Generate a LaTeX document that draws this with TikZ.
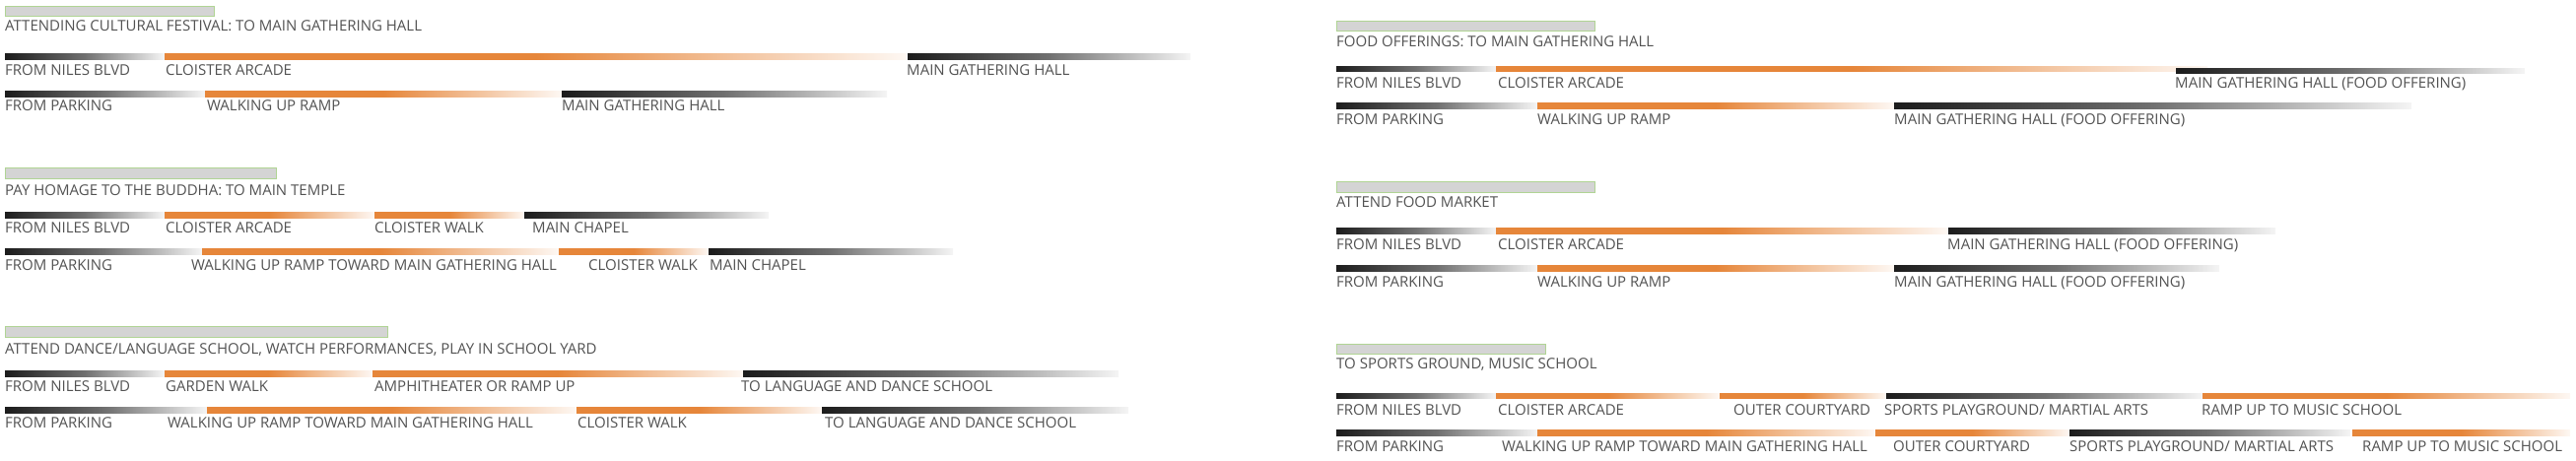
\documentclass[tikz,border=0pt]{standalone}
\usepackage{fontspec}
\setmainfont{Open Sans}
\usepackage{tikz}
\definecolor{myorange}{RGB}{230,134,58}
\definecolor{mydark}{RGB}{28,28,28}
\definecolor{mymid}{RGB}{112,112,112}
\definecolor{mytext}{RGB}{82,82,82}
\definecolor{mygray}{RGB}{212,212,212}
\definecolor{mygreen}{RGB}{176,212,148}
\newcommand{\routefont}{\fontsize{15}{18}\selectfont}
\tikzstyle{headbar}=[draw=mygreen,fill=mygray,line width=0.9pt]
\tikzstyle{headline}=[anchor=base west,inner sep=0pt,text=mytext,font=\routefont]
\tikzstyle{seglabel}=[anchor=base west,inner sep=0pt,text=mytext,font=\routefont]
\tikzstyle{darkbar}=[left color=mydark,right color=black!4,middle color=mymid]
\tikzstyle{orangebar}=[left color=myorange,right color=myorange!6,middle color=myorange]

\begin{document}
\begin{tikzpicture}[x=1pt,y=-1pt]
\useasboundingbox (0,0) rectangle (2614,468);
% attending cultural festival
\draw[headbar] (5,6) rectangle (217,16);
\draw (5,32) node [headline] (fest) {ATTENDING CULTURAL FESTIVAL: TO MAIN GATHERING HALL};
\shade[darkbar] (5,55) rectangle (167,61);
\shade[orangebar] (167,55) rectangle (920,61);
\shade[darkbar] (921,55) rectangle (1208,61);
\draw (5,76.5) node [seglabel] (fest-n1) {FROM NILES BLVD};
\draw (168,76.5) node [seglabel] (fest-n2) {CLOISTER ARCADE};
\draw (920,76.5) node [seglabel] (fest-n3) {MAIN GATHERING HALL};
\shade[darkbar] (5,93) rectangle (208,99);
\shade[orangebar] (208,93) rectangle (570,99);
\shade[darkbar] (570,93) rectangle (900,99);
\draw (5,113) node [seglabel] (fest-p1) {FROM PARKING};
\draw (210,113) node [seglabel] (fest-p2) {WALKING UP RAMP};
\draw (570,113) node [seglabel] (fest-p3) {MAIN GATHERING HALL};
% pay homage
\draw[headbar] (5,170) rectangle (280,181);
\draw (5,198) node [headline] (homage) {PAY HOMAGE TO THE BUDDHA: TO MAIN TEMPLE};
\shade[darkbar] (5,215) rectangle (167,221);
\shade[orangebar] (167,215) rectangle (380,221);
\shade[orangebar] (380,215) rectangle (532,221);
\shade[darkbar] (532,215) rectangle (780,221);
\draw (5,236) node [seglabel] (homage-n1) {FROM NILES BLVD};
\draw (168,236) node [seglabel] (homage-n2) {CLOISTER ARCADE};
\draw (380,236) node [seglabel] (homage-n3) {CLOISTER WALK};
\draw (540,236) node [seglabel] (homage-n4) {MAIN CHAPEL};
\shade[darkbar] (5,252) rectangle (205,258);
\shade[orangebar] (205,252) rectangle (567,258);
\shade[orangebar] (567,252) rectangle (719,258);
\shade[darkbar] (719,252) rectangle (967,258);
\draw (5,274) node [seglabel] (homage-p1) {FROM PARKING};
\draw (194,274) node [seglabel] (homage-p2) {WALKING UP RAMP TOWARD MAIN GATHERING HALL};
\draw (597,274) node [seglabel] (homage-p3) {CLOISTER WALK};
\draw (720,274) node [seglabel] (homage-p4) {MAIN CHAPEL};
% dance and language school
\draw[headbar] (5,331) rectangle (393,342);
\draw (5,359) node [headline] (dance) {ATTEND DANCE/LANGUAGE SCHOOL, WATCH PERFORMANCES, PLAY IN SCHOOL YARD};
\shade[darkbar] (5,376) rectangle (167,382);
\shade[orangebar] (167,376) rectangle (378,382);
\shade[orangebar] (378,376) rectangle (754,382);
\shade[darkbar] (754,376) rectangle (1135,382);
\draw (5,397) node [seglabel] (dance-n1) {FROM NILES BLVD};
\draw (168,397) node [seglabel] (dance-n2) {GARDEN WALK};
\draw (380,397) node [seglabel] (dance-n3) {AMPHITHEATER OR RAMP UP};
\draw (752,397) node [seglabel] (dance-n4) {TO LANGUAGE AND DANCE SCHOOL};
\shade[darkbar] (5,413) rectangle (210,419);
\shade[orangebar] (210,413) rectangle (585,419);
\shade[orangebar] (585,413) rectangle (834,419);
\shade[darkbar] (834,413) rectangle (1145,419);
\draw (5,434) node [seglabel] (dance-p1) {FROM PARKING};
\draw (170,434) node [seglabel] (dance-p2) {WALKING UP RAMP TOWARD MAIN GATHERING HALL};
\draw (586,434) node [seglabel] (dance-p3) {CLOISTER WALK};
\draw (837,434) node [seglabel] (dance-p4) {TO LANGUAGE AND DANCE SCHOOL};
% food offerings
\draw[headbar] (1356,21) rectangle (1618,31);
\draw (1356,48) node [headline] (food) {FOOD OFFERINGS: TO MAIN GATHERING HALL};
\shade[darkbar] (1356,68) rectangle (1518,73);
\shade[orangebar] (1518,68) rectangle (2240,73);
\shade[darkbar] (2208,70) rectangle (2562,75);
\draw (1356,90) node [seglabel] (food-n1) {FROM NILES BLVD};
\draw (1520,90) node [seglabel] (food-n2) {CLOISTER ARCADE};
\draw (2207,90) node [seglabel] (food-n3) {MAIN GATHERING HALL (FOOD OFFERING)};
\shade[darkbar] (1356,105) rectangle (1560,111);
\shade[orangebar] (1560,105) rectangle (1922,111);
\shade[darkbar] (1922,105) rectangle (2447,111);
\draw (1356,127) node [seglabel] (food-p1) {FROM PARKING};
\draw (1560,127) node [seglabel] (food-p2) {WALKING UP RAMP};
\draw (1922,127) node [seglabel] (food-p3) {MAIN GATHERING HALL (FOOD OFFERING)};
% food market
\draw[headbar] (1356,184) rectangle (1618,195);
\draw (1356,210) node [headline] (market) {ATTEND FOOD MARKET};
\shade[darkbar] (1356,231) rectangle (1518,237);
\shade[orangebar] (1518,231) rectangle (1976,237);
\shade[darkbar] (1977,231) rectangle (2309,237);
\draw (1356,253) node [seglabel] (market-n1) {FROM NILES BLVD};
\draw (1520,253) node [seglabel] (market-n2) {CLOISTER ARCADE};
\draw (1976,253) node [seglabel] (market-n3) {MAIN GATHERING HALL (FOOD OFFERING)};
\shade[darkbar] (1356,269) rectangle (1560,275);
\shade[orangebar] (1560,269) rectangle (1922,275);
\shade[darkbar] (1922,269) rectangle (2252,275);
\draw (1356,291) node [seglabel] (market-p1) {FROM PARKING};
\draw (1560,291) node [seglabel] (market-p2) {WALKING UP RAMP};
\draw (1922,291) node [seglabel] (market-p3) {MAIN GATHERING HALL (FOOD OFFERING)};
% sports ground, music school
\draw[headbar] (1356,349) rectangle (1568,359);
\draw (1356,374) node [headline] (sports) {TO SPORTS GROUND, MUSIC SCHOOL};
\shade[darkbar] (1356,399) rectangle (1518,404);
\shade[orangebar] (1518,399) rectangle (1745,404);
\shade[orangebar] (1745,399) rectangle (1914,404);
\shade[darkbar] (1914,399) rectangle (2235,404);
\shade[orangebar] (2235,399) rectangle (2608,404);
\draw (1356,421) node [seglabel] (sports-n1) {FROM NILES BLVD};
\draw (1520,421) node [seglabel] (sports-n2) {CLOISTER ARCADE};
\draw (1759,421) node [seglabel] (sports-n3) {OUTER COURTYARD};
\draw (1912,421) node [seglabel] (sports-n4) {SPORTS PLAYGROUND/ MARTIAL ARTS};
\draw (2234,421) node [seglabel] (sports-n5) {RAMP UP TO MUSIC SCHOOL};
\shade[darkbar] (1356,436) rectangle (1560,442);
\shade[orangebar] (1560,436) rectangle (1903,442);
\shade[orangebar] (1903,436) rectangle (2100,442);
\shade[darkbar] (2100,436) rectangle (2385,442);
\shade[orangebar] (2387,436) rectangle (2608,442);
\draw (1356,458) node [seglabel] (sports-p1) {FROM PARKING};
\draw (1524,458) node [seglabel] (sports-p2) {WALKING UP RAMP TOWARD MAIN GATHERING HALL};
\draw (1921,458) node [seglabel] (sports-p3) {OUTER COURTYARD};
\draw (2100,458) node [seglabel] (sports-p4) {SPORTS PLAYGROUND/ MARTIAL ARTS};
\draw (2397,458) node [seglabel] (sports-p5) {RAMP UP TO MUSIC SCHOOL};
\end{tikzpicture}
\end{document}
